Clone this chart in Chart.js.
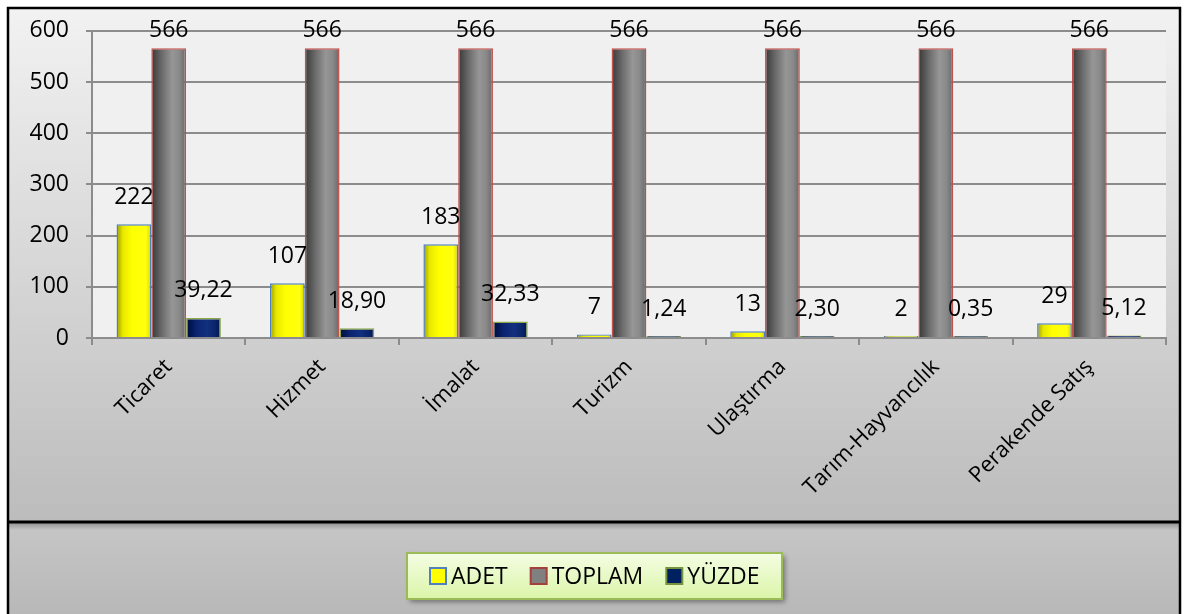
<!DOCTYPE html>
<html>
<head>
<meta charset="utf-8">
<script src="https://cdn.jsdelivr.net/npm/chart.js@4"></script>
<style>
  html, body { margin: 0; padding: 0; background: #fff; }
  #wrap { width: 1192px; height: 614px; }
</style>
</head>
<body>
<div id="wrap"><canvas id="myChart"></canvas></div>
<script>
const categories = ['Ticaret', 'Hizmet', 'İmalat', 'Turizm', 'Ulaştırma', 'Tarım-Hayvancılık', 'Perakende Satış'];
const adet = [222, 107, 183, 7, 13, 2, 29];
const toplam = [566, 566, 566, 566, 566, 566, 566];
const yuzde = [39.22, 18.90, 32.33, 1.24, 2.30, 0.35, 5.12];
const yTicks = [0, 100, 200, 300, 400, 500, 600];

const CAT_PCT = 0.68;
const FONT = '"Open Sans", sans-serif';

// horizontal shading across each bar, positioned from the x scale
function barGradient(stops) {
  return function (c) {
    const chart = c.chart, xs = chart.scales.x;
    if (c.type !== 'data' || !xs || !xs.width) return stops[2][1];
    const n = chart.data.labels.length;
    const bw = xs.width / n * CAT_PCT / 3;
    const cx = xs.getPixelForValue(c.dataIndex) + (c.datasetIndex - 1) * bw;
    const g = chart.ctx.createLinearGradient(cx - bw / 2, 0, cx + bw / 2, 0);
    stops.forEach(s => g.addColorStop(s[0], s[1]));
    return g;
  };
}

const legendItems = [
  { label: 'ADET', fill: '#ffff00', border: '#4f81bd' },
  { label: 'TOPLAM', fill: '#808080', border: '#a5403d' },
  { label: 'YÜZDE', fill: '#002060', border: '#76923c' }
];

function fmt(v, dec) {
  return dec ? v.toFixed(dec).replace('.', ',') : String(v);
}

const background = {
  id: 'background',
  beforeDraw(chart) {
    const ctx = chart.ctx, W = chart.width, H = chart.height, a = chart.chartArea;
    ctx.save();
    ctx.fillStyle = '#fff';
    ctx.fillRect(0, 0, W, H);
    let g = ctx.createLinearGradient(0, 8, 0, 522);
    g.addColorStop(0, '#f2f2f2');
    g.addColorStop(1, '#bcbcbc');
    ctx.fillStyle = g;
    ctx.fillRect(8, 8, 1172, 514);
    ctx.fillStyle = '#f0f0f0';
    ctx.fillRect(a.left, a.top, a.right - a.left, a.bottom - a.top);
    g = ctx.createLinearGradient(0, 523, 0, H);
    g.addColorStop(0, '#c6c6c6');
    g.addColorStop(1, '#b8b8b8');
    ctx.fillStyle = g;
    ctx.fillRect(8, 523, 1172, H - 523);
    g = ctx.createLinearGradient(0, 523, 0, 530);
    g.addColorStop(0, 'rgba(0,0,0,0.25)');
    g.addColorStop(1, 'rgba(0,0,0,0)');
    ctx.fillStyle = g;
    ctx.fillRect(8, 523, 1172, 7);
    ctx.strokeStyle = '#000';
    ctx.lineWidth = 2.5;
    ctx.beginPath();
    ctx.moveTo(8, H + 2); ctx.lineTo(8, 8); ctx.lineTo(1180, 8); ctx.lineTo(1180, H + 2);
    ctx.stroke();
    ctx.lineWidth = 3;
    ctx.beginPath();
    ctx.moveTo(8, 522); ctx.lineTo(1180, 522);
    ctx.stroke();
    ctx.restore();
  }
};

const valueLabels = {
  id: 'valueLabels',
  afterDatasetsDraw(chart) {
    const ctx = chart.ctx;
    ctx.save();
    ctx.font = '23px ' + FONT;
    ctx.fillStyle = '#000';
    ctx.textAlign = 'center';
    ctx.textBaseline = 'middle';
    chart.data.datasets.forEach((ds, di) => {
      chart.getDatasetMeta(di).data.forEach((bar, i) => {
        const y = Math.max(bar.y - 27, chart.chartArea.top);
        ctx.fillText(fmt(ds.data[i], ds.decimals), bar.x, y);
      });
    });
    ctx.restore();
  }
};

const boxLegend = {
  id: 'boxLegend',
  afterDraw(chart) {
    const ctx = chart.ctx;
    const box = { x: 407, y: 553, w: 375, h: 46 };
    ctx.save();
    ctx.shadowColor = 'rgba(0,0,0,0.4)';
    ctx.shadowBlur = 5;
    ctx.shadowOffsetX = 3;
    ctx.shadowOffsetY = 3;
    const g = ctx.createLinearGradient(0, box.y, 0, box.y + box.h);
    g.addColorStop(0, '#f4fde4');
    g.addColorStop(1, '#dcf5a8');
    ctx.fillStyle = g;
    ctx.fillRect(box.x, box.y, box.w, box.h);
    ctx.shadowColor = 'transparent';
    ctx.strokeStyle = '#9bbb59';
    ctx.lineWidth = 2;
    ctx.strokeRect(box.x, box.y, box.w, box.h);

    ctx.font = '23px ' + FONT;
    ctx.textBaseline = 'middle';
    ctx.textAlign = 'left';
    const cy = box.y + box.h / 2;
    let x = 430;
    legendItems.forEach(it => {
      ctx.fillStyle = it.fill;
      ctx.fillRect(x, cy - 8, 16, 16);
      ctx.strokeStyle = it.border;
      ctx.lineWidth = 2;
      ctx.strokeRect(x, cy - 8, 16, 16);
      ctx.fillStyle = '#000';
      ctx.fillText(it.label, x + 21, cy + 1);
      x += 21 + ctx.measureText(it.label).width + 23;
    });
    ctx.restore();
  }
};

Chart.defaults.font.family = FONT;
Chart.defaults.color = '#000';

const ctx = document.getElementById('myChart');

new Chart(ctx, {
  type: 'bar',
  data: {
    labels: categories,
    datasets: [{
      label: 'ADET',
      data: adet,
      backgroundColor: barGradient([[0, '#9a9a00'], [0.18, '#e8e800'], [0.45, '#ffff00'], [0.85, '#ffff10'], [1, '#d4d400']]),
      borderColor: '#4f81bd',
      borderWidth: 1.5
    }, {
      label: 'TOPLAM',
      data: toplam,
      backgroundColor: barGradient([[0, '#383838'], [0.3, '#6a6a6a'], [0.6, '#969696'], [0.8, '#8a8a8a'], [1, '#686868']]),
      borderColor: '#c0504d',
      borderWidth: 1.5
    }, {
      label: 'YÜZDE',
      data: yuzde,
      decimals: 2,
      backgroundColor: barGradient([[0, '#000c3a'], [0.3, '#0a2470'], [0.6, '#123080'], [0.85, '#0a2468'], [1, '#001450']]),
      borderColor: '#8aa84a',
      borderWidth: 1.5
    }]
  },
  options: {
    responsive: true,
    maintainAspectRatio: false,
    animation: false,
    layout: { padding: { top: 29, left: 8, right: 26, bottom: 92 } },
    datasets: {
      bar: { categoryPercentage: CAT_PCT, barPercentage: 1, borderSkipped: 'bottom', minBarLength: 2 }
    },
    plugins: {
      legend: { display: false },
      tooltip: { enabled: false }
    },
    scales: {
      x: {
        afterFit(scale) { scale.height = 184; },
        grid: { offset: true, drawOnChartArea: false, color: '#8c8c8c', lineWidth: 2, tickLength: 7 },
        border: { display: true, color: '#8c8c8c', width: 2 },
        ticks: {
          autoSkip: false,
          minRotation: 45,
          maxRotation: 45,
          padding: 9,
          font: { size: 22 }
        }
      },
      y: {
        min: yTicks[0],
        max: yTicks[yTicks.length - 1],
        afterFit(scale) { scale.width = 84; },
        afterBuildTicks(scale) { scale.ticks = yTicks.map(v => ({ value: v })); },
        grid: { color: '#8c8c8c', lineWidth: 2, tickLength: 6 },
        border: { display: true, color: '#8c8c8c', width: 2 },
        ticks: { padding: 17, font: { size: 23 } }
      }
    }
  },
  plugins: [background, valueLabels, boxLegend]
});
</script>
</body>
</html>
